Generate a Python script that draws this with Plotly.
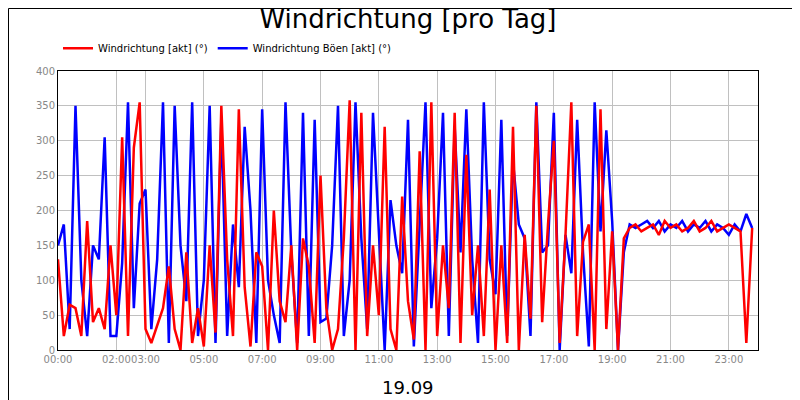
import plotly.graph_objects as go

# readings every 12 minutes from 00:00 to 23:48
hours = [i * 0.2 for i in range(120)]

red = [130, 20, 65, 60, 20, 185, 40, 60, 30, 150,
       50, 305, 20, 290, 355, 30, 10, 35, 60, 120,
       30, 0, 140, 10, 60, 5, 150, 25, 350, 130,
       20, 345, 90, 5, 140, 120, 0, 200, 70, 40,
       150, 0, 160, 120, 10, 250, 60, 0, 30, 160,
       358, 0, 340, 20, 150, 50, 320, 30, 0, 220,
       70, 15, 285, 0, 355, 20, 150, 60, 340, 10,
       280, 50, 150, 20, 230, 0, 150, 10, 320, 0,
       165, 45, 350, 40, 180, 300, 10, 165, 355, 20,
       155, 180, 0, 345, 30, 170, 0, 160, 175, 180,
       170, 175, 180, 165, 185, 175, 180, 170, 175, 185,
       170, 175, 185, 170, 175, 180, 175, 170, 10, 175]
blue = [150, 180, 30, 350, 100, 20, 150, 130, 305, 20,
        20, 125, 355, 60, 210, 230, 30, 130, 355, 10,
        350, 150, 70, 355, 20, 100, 350, 10, 330, 20,
        180, 90, 320, 200, 10, 345, 100, 50, 10, 355,
        140, 10, 340, 20, 330, 40, 45, 150, 350, 20,
        100, 355, 160, 30, 340, 180, 0, 215, 150, 110,
        330, 5, 180, 355, 60, 160, 340, 20, 320, 140,
        345, 130, 10, 355, 130, 80, 330, 20, 270, 180,
        160, 20, 355, 140, 150, 340, 0, 165, 110, 330,
        140, 5, 355, 170, 315, 185, 0, 140, 180, 175,
        180, 185, 175, 185, 170, 180, 175, 185, 170, 180,
        175, 185, 170, 180, 175, 165, 180, 170, 195, 175]
tick_hours = [0, 2, 3, 5, 7, 9, 11, 13, 15, 17, 19, 21, 23]
tick_labels = ["%02d:00" % h for h in tick_hours]

fig = go.Figure()
fig.add_trace(go.Scatter(x=hours, y=blue, mode="lines", name="Windrichtung Böen [akt] (°)",
                         line=dict(color="#0000ff", width=2.5)))
fig.add_trace(go.Scatter(x=hours, y=red, mode="lines", name="Windrichtung [akt] (°)",
                         line=dict(color="#ff0000", width=2.5)))

fig.update_layout(
    width=800, height=400,
    margin=dict(l=50, r=50, t=63, b=58, autoexpand=False),
    paper_bgcolor="white", plot_bgcolor="white",
    font=dict(family="DejaVu Sans", size=10, color="#888888"),
    title=dict(text="Windrichtung [pro Tag]", x=0.5, xanchor="center", y=0.995, yanchor="top",
               font=dict(size=26, color="black")),
    legend=dict(orientation="h", x=0.0, y=1.03, xanchor="left", yanchor="bottom",
                traceorder="reversed", itemwidth=30, font=dict(size=10, color="black")),
    xaxis=dict(range=[0, 24], tickvals=tick_hours, ticktext=tick_labels, tickangle=0,
               showgrid=True, gridcolor="#c0c0c0", linecolor="black", mirror=True,
               ticks="", zeroline=False),
    yaxis=dict(range=[0, 400], dtick=50, showgrid=True, gridcolor="#c0c0c0",
               linecolor="black", mirror=True, ticks="", zeroline=False),
    showlegend=True,
)
fig.add_annotation(text="19.09", xref="paper", yref="paper", x=0.5, y=-0.09, yanchor="top",
                   showarrow=False, font=dict(size=18, color="black"))
fig.add_shape(type="rect", xref="paper", yref="paper", x0=-49.5/700, x1=749.5/700,
              y0=-57.5/279, y1=1 + 62.5/279, line=dict(color="black", width=1))
fig.write_html("out.html")
